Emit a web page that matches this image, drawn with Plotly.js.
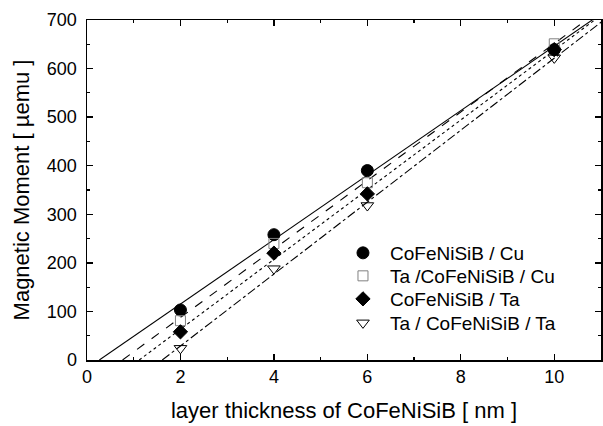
<!DOCTYPE html>
<html>
<head>
<meta charset="utf-8">
<script src="https://cdn.plot.ly/plotly-3.0.1.min.js"></script>
<style>
  html, body { margin: 0; padding: 0; background: #fff; }
  #chart { width: 603px; height: 426px; }
</style>
</head>
<body>
<div id="chart"></div>
<script>
// Layer thickness of CoFeNiSiB (nm)
const thickness = [2, 4, 6, 10];

// Measured magnetic moment (µemu) for each stack
const cuTop      = [103, 258, 390, 639];   // CoFeNiSiB / Cu
const taCu       = [81, 240, 365, 651];    // Ta /CoFeNiSiB / Cu
const taTop      = [58, 220, 342, 639];    // CoFeNiSiB / Ta
const taTa       = [24, 188, 318, 622];    // Ta / CoFeNiSiB / Ta

const names = ['CoFeNiSiB / Cu', 'Ta /CoFeNiSiB / Cu', 'CoFeNiSiB / Ta', 'Ta / CoFeNiSiB / Ta'];
const series = [cuTop, taCu, taTop, taTa];

const xTicks = [0, 2, 4, 6, 8, 10];
const yTicks = [0, 100, 200, 300, 400, 500, 600, 700];

// least-squares straight line through each data set
function linFit(xs, ys) {
  const n = xs.length;
  const mx = xs.reduce((a, b) => a + b, 0) / n;
  const my = ys.reduce((a, b) => a + b, 0) / n;
  let sxy = 0, sxx = 0;
  for (let i = 0; i < n; i++) {
    sxy += (xs[i] - mx) * (ys[i] - my);
    sxx += (xs[i] - mx) * (xs[i] - mx);
  }
  const slope = sxy / sxx;
  return { slope: slope, icpt: my - slope * mx };
}

const markerStyles = [
  { symbol: 'circle', size: 12, color: '#000', line: { color: '#000', width: 1 } },
  { symbol: 'square-open', size: 10, color: '#808080', line: { color: '#808080', width: 1 } },
  { symbol: 'diamond', size: 11, color: '#000', line: { color: '#000', width: 1 } },
  { symbol: 'triangle-down-open', size: 11, color: '#000', line: { color: '#000', width: 1 } }
];
const dashes = ['solid', 'dash', 'dot', 'dashdot'];
const legendIds = ['legend', 'legend2', 'legend3', 'legend4'];

const traces = [];
// fitted lines first so markers sit on top
series.forEach((ys, i) => {
  const f = linFit(thickness, ys);
  const x0 = -f.icpt / f.slope;
  const x1 = 11.5;
  traces.push({
    x: [x0, x1],
    y: [0, f.icpt + f.slope * x1],
    mode: 'lines',
    line: { color: '#000', width: 1.1, dash: dashes[i] },
    showlegend: false,
    hoverinfo: 'skip'
  });
});
series.forEach((ys, i) => {
  traces.push({
    x: thickness,
    y: ys,
    name: names[i],
    mode: 'markers',
    marker: markerStyles[i],
    legend: legendIds[i],
    cliponaxis: false
  });
});

const family = 'Liberation Sans, Arial, sans-serif';
const tickFont = { family: family, size: 18, color: '#000' };
const titleFont = { family: family, size: 22, color: '#000' };

// one single-row legend per series, stacked as a key inside the frame
const keyRows = [0.3147, 0.2471, 0.1794, 0.1088];
function keyBox(yPos) {
  return {
    x: 0.4844, y: yPos, xanchor: 'left', yanchor: 'middle',
    bgcolor: 'rgba(0,0,0,0)',
    itemwidth: 44,
    font: { family: family, size: 19, color: '#000' }
  };
}

const layout = {
  width: 603,
  height: 426,
  margin: { l: 87, r: 2, t: 20, b: 66 },
  paper_bgcolor: '#fff',
  plot_bgcolor: '#fff',
  font: tickFont,
  showlegend: true,
  legend: keyBox(keyRows[0]),
  legend2: keyBox(keyRows[1]),
  legend3: keyBox(keyRows[2]),
  legend4: keyBox(keyRows[3]),
  xaxis: {
    range: [0, 11],
    tickvals: xTicks,
    ticktext: xTicks.map(String),
    ticks: 'inside', ticklen: 6, tickwidth: 1.3, tickcolor: '#000',
    minor: { dtick: 1, ticks: 'inside', ticklen: 3, tickwidth: 1.2, tickcolor: '#000', showgrid: false },
    showline: true, linecolor: '#000', linewidth: 1.5, mirror: 'ticks',
    showgrid: false, zeroline: false,
    tickfont: tickFont,
    title: { text: 'layer thickness of CoFeNiSiB [ nm ]', font: titleFont, standoff: 16 }
  },
  yaxis: {
    range: [0, 700],
    tickvals: yTicks,
    ticktext: yTicks.map(String),
    ticks: 'inside', ticklen: 6, tickwidth: 1.3, tickcolor: '#000',
    ticklabelstandoff: 5,
    minor: { dtick: 50, ticks: 'inside', ticklen: 3, tickwidth: 1.2, tickcolor: '#000', showgrid: false },
    showline: true, linecolor: '#000', linewidth: 1.5, mirror: 'ticks',
    showgrid: false, zeroline: false,
    tickfont: tickFont,
    title: { text: 'Magnetic Moment [ µemu ]', font: titleFont, standoff: 11 }
  }
};

Plotly.newPlot('chart', traces, layout, { displayModeBar: false, staticPlot: true });
</script>
</body>
</html>
